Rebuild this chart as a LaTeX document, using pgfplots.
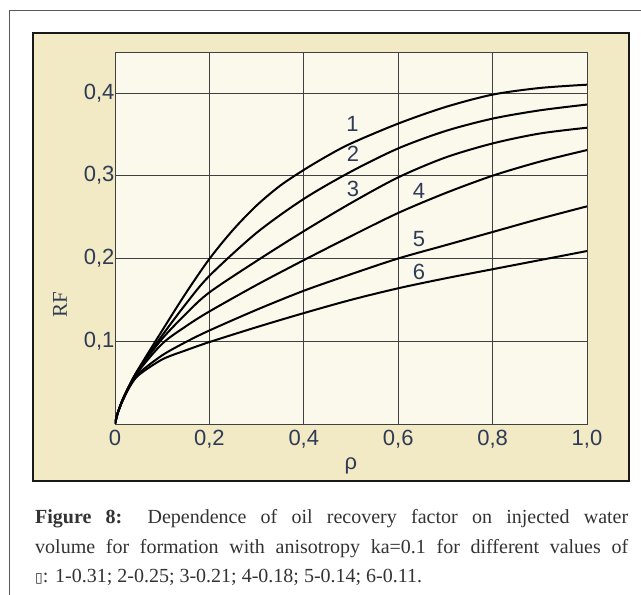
\documentclass[border=0pt]{standalone}
\usepackage{fontspec}
\setmainfont{Liberation Serif}
\newfontfamily\arial{Liberation Sans}
\newfontfamily\dejavu{DejaVu Sans}
\usepackage{pgfplots}
\pgfplotsset{compat=1.18}
\definecolor{panel}{HTML}{F2E9C5}
\definecolor{plotbg}{HTML}{FBF8EC}
\definecolor{lab}{HTML}{2F3B55}
\definecolor{captxt}{HTML}{333333}
\begin{document}
\begin{tikzpicture}[x=1pt,y=1pt]
\useasboundingbox (0,0) rectangle (641,595);
\fill[white] (0,0) rectangle (641,595);
\draw[black!65, line width=1pt] (9,0) -- (9,584) -- (641,584);
\filldraw[fill=panel, draw=black!90, line width=2.5pt] (33,114) rectangle (629,562);
\begin{axis}[
  at={(115pt,171pt)}, anchor=south west, scale only axis,
  width=472pt, height=372pt,
  xmin=0, xmax=1, ymin=0, ymax=0.4495,
  axis background/.style={fill=plotbg},
  axis line style={draw=black!75, line width=0.8pt},
  xtick={0,0.2,0.4,0.6,0.8,1.0},
  ytick={0.1,0.2,0.3,0.4},
  xticklabels={0,{0,2},{0,4},{0,6},{0,8},{1,0}},
  yticklabels={{0,1},{0,2},{0,3},{0,4}},
  grid=major,
  major grid style={draw=black!75, line width=0.8pt},
  major tick length=0pt,
  ticklabel style={font=\arial\fontsize{22}{24}\selectfont, text=lab},
  xticklabel style={yshift=-3pt},
  yticklabel style={xshift=3pt},
  clip=true,
]
\addplot[black, line width=2pt, smooth] coordinates {(0,0) (0.005,0.012) (0.015,0.028) (0.03,0.046) (0.05,0.067) (0.1,0.113) (0.15,0.158) (0.2,0.1995) (0.25,0.2345) (0.3,0.264) (0.35,0.288) (0.4,0.307) (0.45,0.324) (0.5,0.339) (0.6,0.363) (0.7,0.383) (0.8,0.398) (0.9,0.406) (1.0,0.410)};
\addplot[black, line width=2pt, smooth] coordinates {(0,0) (0.005,0.012) (0.015,0.028) (0.03,0.046) (0.05,0.066) (0.1,0.107) (0.15,0.145) (0.2,0.179) (0.3,0.231) (0.4,0.272) (0.5,0.305) (0.6,0.333) (0.7,0.354) (0.8,0.369) (0.9,0.379) (1.0,0.386)};
\addplot[black, line width=2pt, smooth] coordinates {(0,0) (0.005,0.012) (0.015,0.027) (0.03,0.046) (0.05,0.066) (0.1,0.103) (0.15,0.133) (0.2,0.159) (0.3,0.197) (0.4,0.233) (0.5,0.267) (0.6,0.298) (0.7,0.322) (0.8,0.339) (0.9,0.351) (1.0,0.358)};
\addplot[black, line width=2pt, smooth] coordinates {(0,0) (0.005,0.012) (0.015,0.027) (0.03,0.045) (0.05,0.064) (0.1,0.097) (0.15,0.118) (0.2,0.136) (0.3,0.168) (0.4,0.198) (0.5,0.227) (0.6,0.255) (0.7,0.279) (0.8,0.300) (0.9,0.317) (1.0,0.331)};
\addplot[black, line width=2pt, smooth] coordinates {(0,0) (0.005,0.012) (0.015,0.027) (0.03,0.044) (0.05,0.061) (0.1,0.083) (0.15,0.099) (0.2,0.113) (0.3,0.138) (0.4,0.161) (0.5,0.181) (0.6,0.200) (0.7,0.216) (0.8,0.232) (0.9,0.248) (1.0,0.263)};
\addplot[black, line width=2pt, smooth] coordinates {(0,0) (0.005,0.012) (0.015,0.027) (0.03,0.044) (0.05,0.059) (0.1,0.078) (0.15,0.089) (0.2,0.099) (0.3,0.117) (0.4,0.134) (0.5,0.150) (0.6,0.164) (0.7,0.176) (0.8,0.187) (0.9,0.198) (1.0,0.209)};
\begin{scope}[every node/.style={font=\arial\fontsize{22}{24}\selectfont, text=lab}]
\node at (axis cs:0.503,0.362) {1};
\node at (axis cs:0.504,0.326) {2};
\node at (axis cs:0.504,0.284) {3};
\node at (axis cs:0.644,0.282) {4};
\node at (axis cs:0.644,0.224) {5};
\node at (axis cs:0.644,0.184) {6};
\end{scope}
\end{axis}
\node[font=\fontsize{21}{23}\selectfont, text=lab, rotate=90] at (60,290) {RF};
\node[font=\arial\fontsize{22}{24}\selectfont, text=lab] at (351,129) {ρ};
\begin{scope}[every node/.style={anchor=base west, inner sep=0pt, font=\fontsize{20}{22}\selectfont, text=captxt}]
\node at (35,71) {\makebox[593pt][s]{\textbf{Figure 8:} Dependence of oil recovery factor on injected water}};
\node at (35,41.5) {\makebox[593pt][s]{volume for formation with anisotropy ka=0.1 for different values of}};
\node at (35,12) {{\dejavu\fontsize{14}{16}\selectfont ▯}: 1-0.31; 2-0.25; 3-0.21; 4-0.18; 5-0.14; 6-0.11.};
\end{scope}
\end{tikzpicture}
\end{document}
